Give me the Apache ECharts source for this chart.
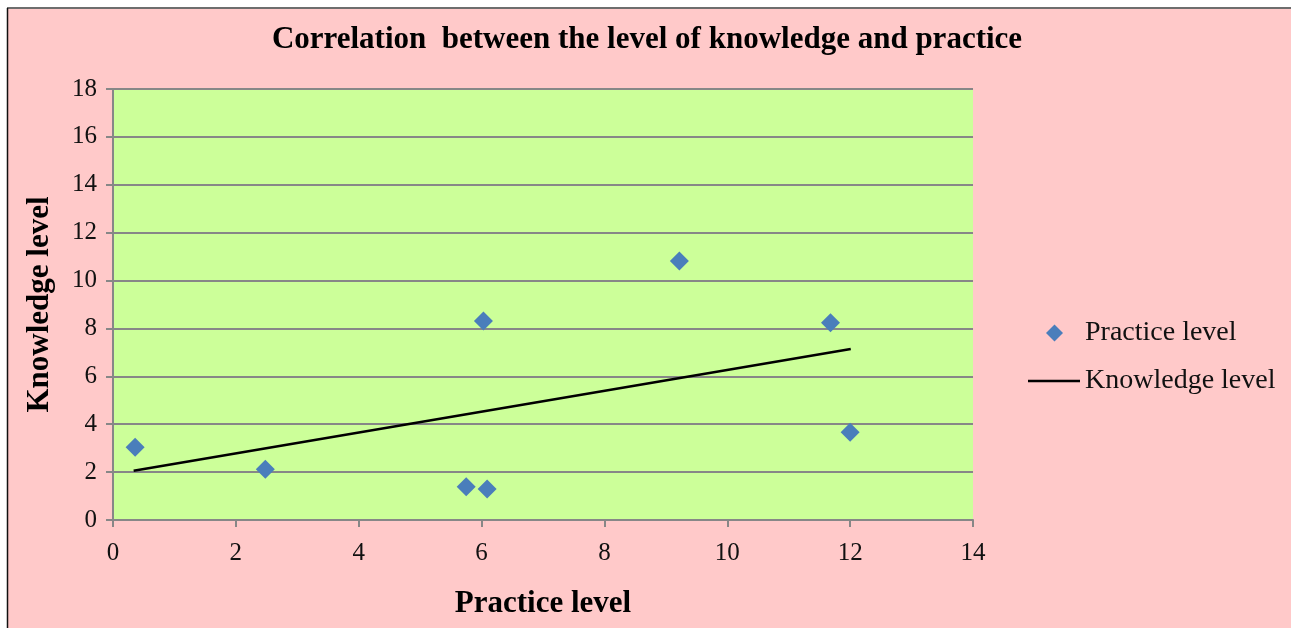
<!DOCTYPE html>
<html>
<head>
<meta charset="utf-8">
<script src="https://cdn.jsdelivr.net/npm/echarts@6/dist/echarts.min.js"></script>
<style>
  html, body { margin: 0; padding: 0; background: #ffffff; }
  #chart { width: 1291px; height: 629px; }
</style>
</head>
<body>
<div id="chart"></div>
<script>
// Practice vs knowledge scores for each respondent
const practiceLevel = [0.36, 2.48, 5.75, 6.09, 6.03, 9.22, 11.68, 12.0];
const knowledgeLevel = [3.04, 2.12, 1.39, 1.29, 8.31, 10.82, 8.24, 3.66];

// Linear trend line endpoints [x, y]
const trendStart = [0.336, 2.06];
const trendEnd = [12.01, 7.14];

const xTicks = { min: 0, max: 14, interval: 2 };
const yTicks = { min: 0, max: 18, interval: 2 };

const serif = '"Liberation Serif", "Times New Roman", serif';
const gridGray = '#878787';

const chart = echarts.init(document.getElementById('chart'), null, { renderer: 'canvas' });

chart.setOption({
  backgroundColor: '#ffffff',
  animation: false,
  graphic: [
    { type: 'rect', z: -10, shape: { x: 7, y: 7, width: 1284, height: 621 }, style: { fill: '#FFC9C9' } },
    { type: 'line', z: -9, shape: { x1: 7, y1: 8, x2: 1291, y2: 8 }, style: { stroke: '#6e6e6e', lineWidth: 2 } },
    { type: 'line', z: -9, shape: { x1: 7.5, y1: 8, x2: 7.5, y2: 628 }, style: { stroke: '#111111', lineWidth: 1.5 } }
  ],
  title: {
    text: 'Correlation  between the level of knowledge and practice',
    left: 642,
    textAlign: 'center',
    top: 19,
    textStyle: { fontFamily: serif, fontSize: 31, fontWeight: 'bold', color: '#000' }
  },
  legend: [
    {
      orient: 'vertical',
      left: 1041,
      top: 314,
      itemWidth: 17,
      itemHeight: 17,
      textStyle: { fontFamily: serif, fontSize: 28, color: '#111', padding: [0, 0, 0, 17] },
      data: [{ name: 'Practice level', icon: 'diamond' }]
    },
    {
      orient: 'vertical',
      left: 1023,
      top: 362,
      itemWidth: 52,
      itemHeight: 2.5,
      textStyle: { fontFamily: serif, fontSize: 28, color: '#111' },
      data: [{ name: 'Knowledge level', icon: 'rect' }]
    }
  ],
  grid: {
    left: 113,
    top: 89,
    width: 860,
    height: 431,
    show: true,
    backgroundColor: '#CCFF99',
    borderWidth: 0
  },
  xAxis: {
    type: 'value',
    min: xTicks.min,
    max: xTicks.max,
    interval: xTicks.interval,
    name: 'Practice level',
    nameLocation: 'middle',
    nameGap: 68,
    nameTextStyle: { fontFamily: serif, fontSize: 31, fontWeight: 'bold', color: '#000' },
    axisLine: { show: true, lineStyle: { color: gridGray, width: 2 } },
    axisTick: { show: true, inside: false, length: 7, lineStyle: { color: gridGray, width: 2 } },
    axisLabel: { fontFamily: serif, fontSize: 25, color: '#111', margin: 21 },
    splitLine: { show: false }
  },
  yAxis: {
    type: 'value',
    min: yTicks.min,
    max: yTicks.max,
    interval: yTicks.interval,
    name: 'Knowledge level',
    nameLocation: 'middle',
    nameGap: 58,
    nameTextStyle: { fontFamily: serif, fontSize: 31, fontWeight: 'bold', color: '#000' },
    axisLine: { show: true, lineStyle: { color: gridGray, width: 2 } },
    axisTick: { show: true, inside: false, length: 7, lineStyle: { color: gridGray, width: 2 } },
    axisLabel: { fontFamily: serif, fontSize: 25, color: '#111', margin: 16 },
    splitLine: { show: true, lineStyle: { color: gridGray, width: 2 } }
  },
  series: [
    {
      name: 'Practice level',
      type: 'scatter',
      symbol: 'diamond',
      symbolSize: 19,
      itemStyle: { color: '#4A7EBB', opacity: 1 },
      data: practiceLevel.map((x, i) => [x, knowledgeLevel[i]]),
      z: 3
    },
    {
      name: 'Knowledge level',
      type: 'line',
      symbol: 'none',
      lineStyle: { color: '#000', width: 2.5 },
      itemStyle: { color: '#000' },
      data: [trendStart, trendEnd],
      z: 2
    }
  ]
});
</script>
</body>
</html>
